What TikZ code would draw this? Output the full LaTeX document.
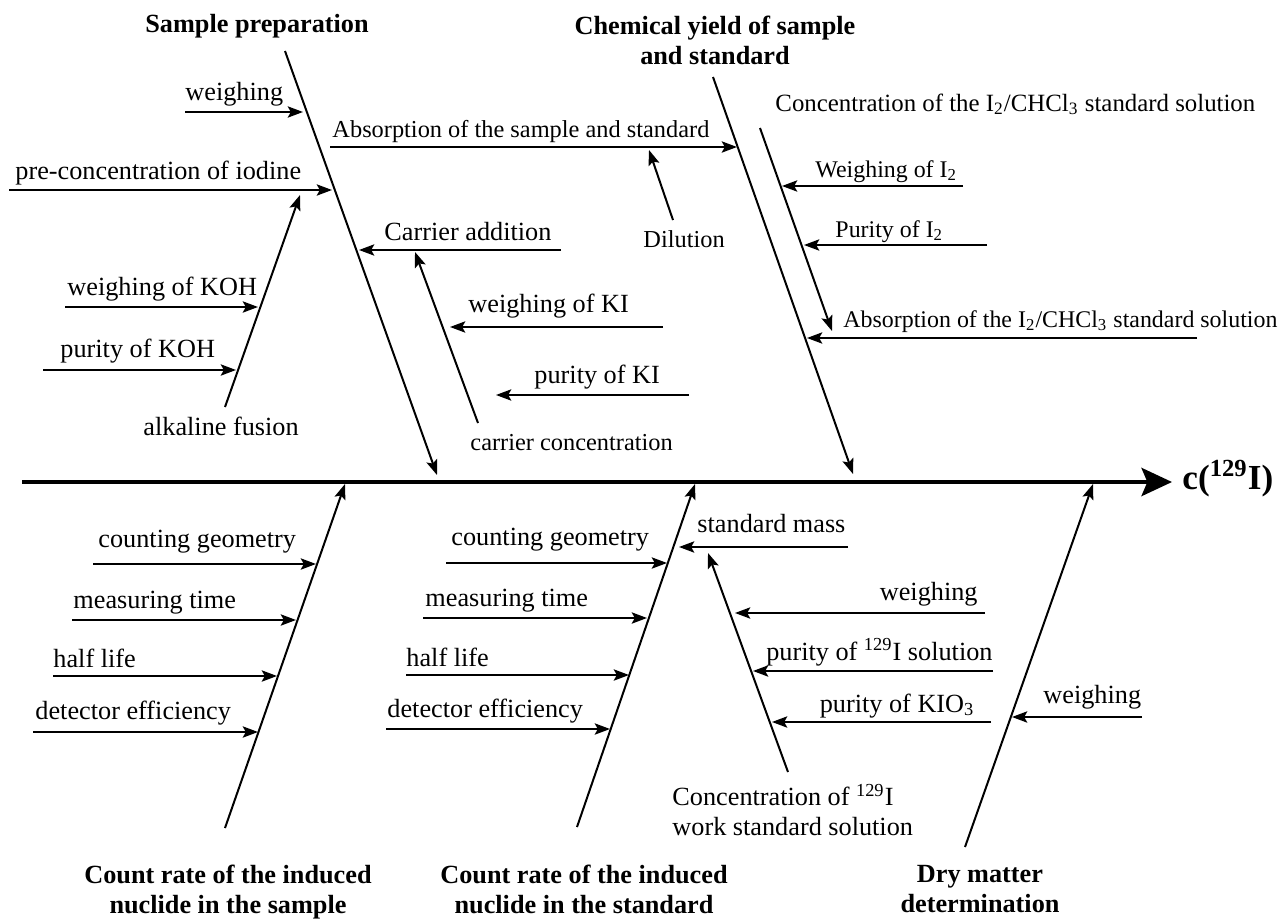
\documentclass[tikz,border=0pt]{standalone}
\usepackage{fontspec}
\setmainfont{Liberation Serif}
\usetikzlibrary{arrows.meta}
\begin{document}
\begin{tikzpicture}[x=0.015cm,y=-0.015cm,
  every node/.style={inner sep=0pt, font=\fontsize{11.2}{12.8}\selectfont},
  lbl/.style={anchor=base west},
  lble/.style={anchor=base east},
  ttl/.style={anchor=north, align=center, font=\fontsize{11.2}{12.8}\selectfont\bfseries},
  sml/.style={font=\fontsize{10.2}{12.8}\selectfont},
  mid/.style={font=\fontsize{10.4}{12.8}\selectfont},
  bone/.style={line width=0.85pt},
  arr/.style={line width=0.85pt, -{Stealth[length=6.5pt,width=4.8pt,inset=1.3pt]}},
  spine/.style={line width=1.8pt, -{Stealth[length=13pt,width=12pt,inset=2.5pt]}}
]
\useasboundingbox (0,0) rectangle (1286,919);

% spine
\coordinate (sp0) at (22,482);
\coordinate (sp1) at (1172,482);
\draw[spine] (sp0) -- (sp1);
\node[anchor=base west, font=\fontsize{15}{18}\selectfont\bfseries] (res) at (1182,489) {c(\textsuperscript{129}I)};

% main bones
\coordinate (b1s) at (285,51);  \coordinate (b1e) at (437,475);
\coordinate (b2s) at (713,77);  \coordinate (b2e) at (853,474);
\coordinate (b3s) at (225,828); \coordinate (b3e) at (345,484);
\coordinate (b4s) at (577,827); \coordinate (b4e) at (695,484);
\coordinate (b5s) at (965,847); \coordinate (b5e) at (1093,484);
\foreach \b in {b1,b2,b3,b4,b5} {\draw[arr] (\b s) -- (\b e);}

% sub bones
\coordinate (s1s) at (225,407); \coordinate (s1e) at (300,195);
\coordinate (s2s) at (478,423); \coordinate (s2e) at (415,252);
\coordinate (s3s) at (760,128); \coordinate (s3e) at (832,331);
\coordinate (s4s) at (788,772); \coordinate (s4e) at (708,553);
\coordinate (dls) at (673,220); \coordinate (dle) at (649,150);
\foreach \b in {s1,s2,s3,s4,dl} {\draw[arr] (\b s) -- (\b e);}

% horizontal arrows
\foreach \n/\a/\b/\y in {
  h1/185/303/112, h2/9/332/190, h3/65/258/307, h4/43/236/370,
  h5/330/737/147, h6/561/359/250, h7/663/450/327, h8/689/496/395,
  h9/963/782/186, h10/987/804/245, h11/1197/807/338,
  h12/93/316/564, h13/72/296/620, h14/53/277/676, h15/33/258/732,
  h16/446/667/563, h17/423/647/618, h18/406/629/675, h19/386/610/729,
  h20/848/679/547, h21/985/735/613, h22/993/753/671, h23/991/772/722,
  h24/1142/1012/717} {
  \coordinate (\n s) at (\a,\y);
  \coordinate (\n e) at (\b,\y);
  \draw[arr] (\n s) -- (\n e);
}

% titles
\node[ttl] (tsp) at (257,14) {Sample preparation};
\node[ttl] (tcy) at (715,16) {Chemical yield of sample\\and standard};
\node[ttl] (tcs) at (228,865) {Count rate of the induced\\nuclide in the sample};
\node[ttl] (tcst) at (584,865) {Count rate of the induced\\nuclide in the standard};
\node[ttl] (tdm) at (980,865) {Dry matter\\determination};

% labels top-left
\node[lbl] (l1) at (185,100) {weighing};
\node[lbl] (l2) at (15,179) {pre-concentration of iodine};
\node[lbl] (l3) at (67,295) {weighing of KOH};
\node[lbl] (l4) at (60,357) {purity of KOH};
\node[lbl] (l5) at (143,435) {alkaline fusion};

% labels top-middle
\node[lbl,mid] (l6) at (332,137) {Absorption of the sample and standard};
\node[lbl,mid] (l7) at (643,247) {Dilution};
\node[lbl] (l8) at (384,240) {Carrier addition};
\node[lbl] (l9) at (468,312) {weighing of KI};
\node[lbl] (l10) at (534,383) {purity of KI};
\node[lbl,mid] (l11) at (470,450) {carrier concentration};

% labels top-right
\node[lbl,font=\fontsize{10.6}{12.8}\selectfont] (l12) at (775,111) {Concentration of the I\textsubscript{2}/CHCl\textsubscript{3} standard solution};
\node[lbl,sml] (l13) at (815,177) {Weighing of I\textsubscript{2}};
\node[lbl,sml] (l14) at (835,237) {Purity of I\textsubscript{2}};
\node[lbl,sml] (l15) at (843,327) {Absorption of the I\textsubscript{2}/CHCl\textsubscript{3} standard solution};

% labels bottom-left
\node[lbl] (l16) at (98,547) {counting geometry};
\node[lbl] (l17) at (73,608) {measuring time};
\node[lbl] (l18) at (53,667) {half life};
\node[lbl] (l19) at (35,719) {detector efficiency};

% labels bottom-middle
\node[lbl] (l20) at (451,545) {counting geometry};
\node[lbl] (l21) at (425,606) {measuring time};
\node[lbl] (l22) at (406,666) {half life};
\node[lbl] (l23) at (387,717) {detector efficiency};
\node[lbl] (l24) at (697,532) {standard mass};
\node[lbl] (l25) at (978,600) [lble] {weighing};
\node[lbl] (l26) at (993,660) [lble] {purity of \textsuperscript{129}I solution};
\node[lbl] (l27) at (975,712) [lble] {purity of KIO\textsubscript{3}};
\node[anchor=north west, align=left] (l28) at (672,784) {Concentration of \textsuperscript{129}I\\work standard solution};

% labels bottom-right
\node[lbl] (l29) at (1043,703) {weighing};
\end{tikzpicture}
\end{document}
